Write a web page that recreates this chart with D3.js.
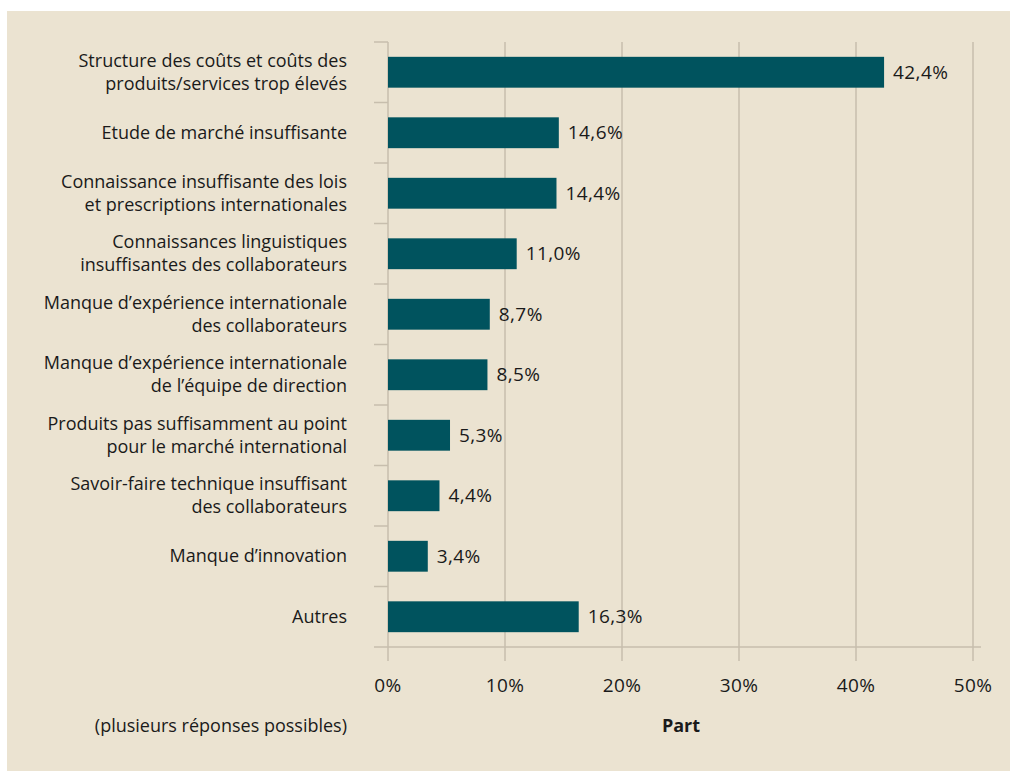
<!DOCTYPE html>
<html><head><meta charset="utf-8">
<script src="https://cdn.jsdelivr.net/npm/d3@7"></script>
<style>
html,body{margin:0;padding:0;background:#fff;}
svg{display:block;}
text{font-family:"Open Sans","Noto Sans",sans-serif;fill:#1a1a1a;}
</style></head><body>
<svg id="c" width="1010" height="772"></svg>
<script>
const categories = [
  ["Structure des coûts et coûts des","produits/services trop élevés"],
  ["Etude de marché insuffisante"],
  ["Connaissance insuffisante des lois","et prescriptions internationales"],
  ["Connaissances linguistiques","insuffisantes des collaborateurs"],
  ["Manque d’expérience internationale","des collaborateurs"],
  ["Manque d’expérience internationale","de l’équipe de direction"],
  ["Produits pas suffisamment au point","pour le marché international"],
  ["Savoir-faire technique insuffisant","des collaborateurs"],
  ["Manque d’innovation"],
  ["Autres"]
];
const values = [42.4, 14.6, 14.4, 11.0, 8.7, 8.5, 5.3, 4.4, 3.4, 16.3];
const valueLabels = ["42,4%","14,6%","14,4%","11,0%","8,7%","8,5%","5,3%","4,4%","3,4%","16,3%"];
const xTicks = [0, 10, 20, 30, 40, 50];
const xTickLabels = ["0%","10%","20%","30%","40%","50%"];
const xTitle = "Part";
const note = "(plusieurs réponses possibles)";

const svg = d3.select("#c");
const bg = "#ebe3d1", grid = "#c7bead", barCol = "#00535e";
svg.append("rect").attr("x",7).attr("y",11).attr("width",1003).attr("height",760).attr("fill",bg);

const pL = 388, pR = 973, pT = 42, pB = 647;
const x = d3.scaleLinear().domain([0,50]).range([pL,pR]);
const idx = d3.range(categories.length);
const y = d3.scaleBand().domain(idx).range([pT,pB]).paddingInner(0.49).paddingOuter(0.245);
const step = y.step();

// gridlines
svg.append("g").selectAll("line").data(xTicks).join("line")
  .attr("x1",d=>x(d)).attr("x2",d=>x(d)).attr("y1",pT).attr("y2",661)
  .attr("stroke",grid).attr("stroke-width",1.5);
// bottom axis line
svg.append("line").attr("x1",374).attr("x2",981).attr("y1",pB).attr("y2",pB)
  .attr("stroke",grid).attr("stroke-width",1.5);
// left separator ticks
svg.append("g").selectAll("line").data(d3.range(categories.length)).join("line")
  .attr("x1",374).attr("x2",pL).attr("y1",d=>pT+d*step).attr("y2",d=>pT+d*step)
  .attr("stroke",grid).attr("stroke-width",1.5);

// bars
svg.append("g").selectAll("rect").data(values).join("rect")
  .attr("x",x(0)).attr("y",(d,i)=>y(i)).attr("width",d=>x(d)-x(0)).attr("height",y.bandwidth())
  .attr("fill",barCol);

// value labels
svg.append("g").selectAll("text").data(values).join("text")
  .attr("x",d=>x(d)+9).attr("y",(d,i)=>y(i)+y.bandwidth()/2).attr("dy","0.35em")
  .attr("font-size",19).attr("letter-spacing",0.4).text((d,i)=>valueLabels[i]);

// category labels
const cl = svg.append("g").selectAll("text").data(categories).join("text")
  .attr("text-anchor","end").attr("font-size",18)
  .attr("y",(d,i)=>y(i)+y.bandwidth()/2 - 0.5);
cl.each(function(lines){
  const t = d3.select(this);
  const n = lines.length, lh = 23;
  lines.forEach((s,k)=>{
    t.append("tspan").attr("x",347).attr("dy", k===0 ? ((-(n-1)/2)*lh/18+0.35)+"em" : lh+"px").text(s);
  });
});

// x tick labels
svg.append("g").selectAll("text").data(xTicks).join("text")
  .attr("x",d=>x(d)).attr("y",685).attr("dy","0.35em").attr("text-anchor","middle")
  .attr("font-size",19).attr("letter-spacing",0.4).text((d,i)=>xTickLabels[i]);

svg.append("text").attr("x",681).attr("y",726).attr("dy","0.35em").attr("text-anchor","middle")
  .attr("font-size",18).attr("font-weight","bold").text(xTitle);
svg.append("text").attr("x",347).attr("y",726).attr("dy","0.35em").attr("text-anchor","end")
  .attr("font-size",18).text(note);
</script></body></html>
